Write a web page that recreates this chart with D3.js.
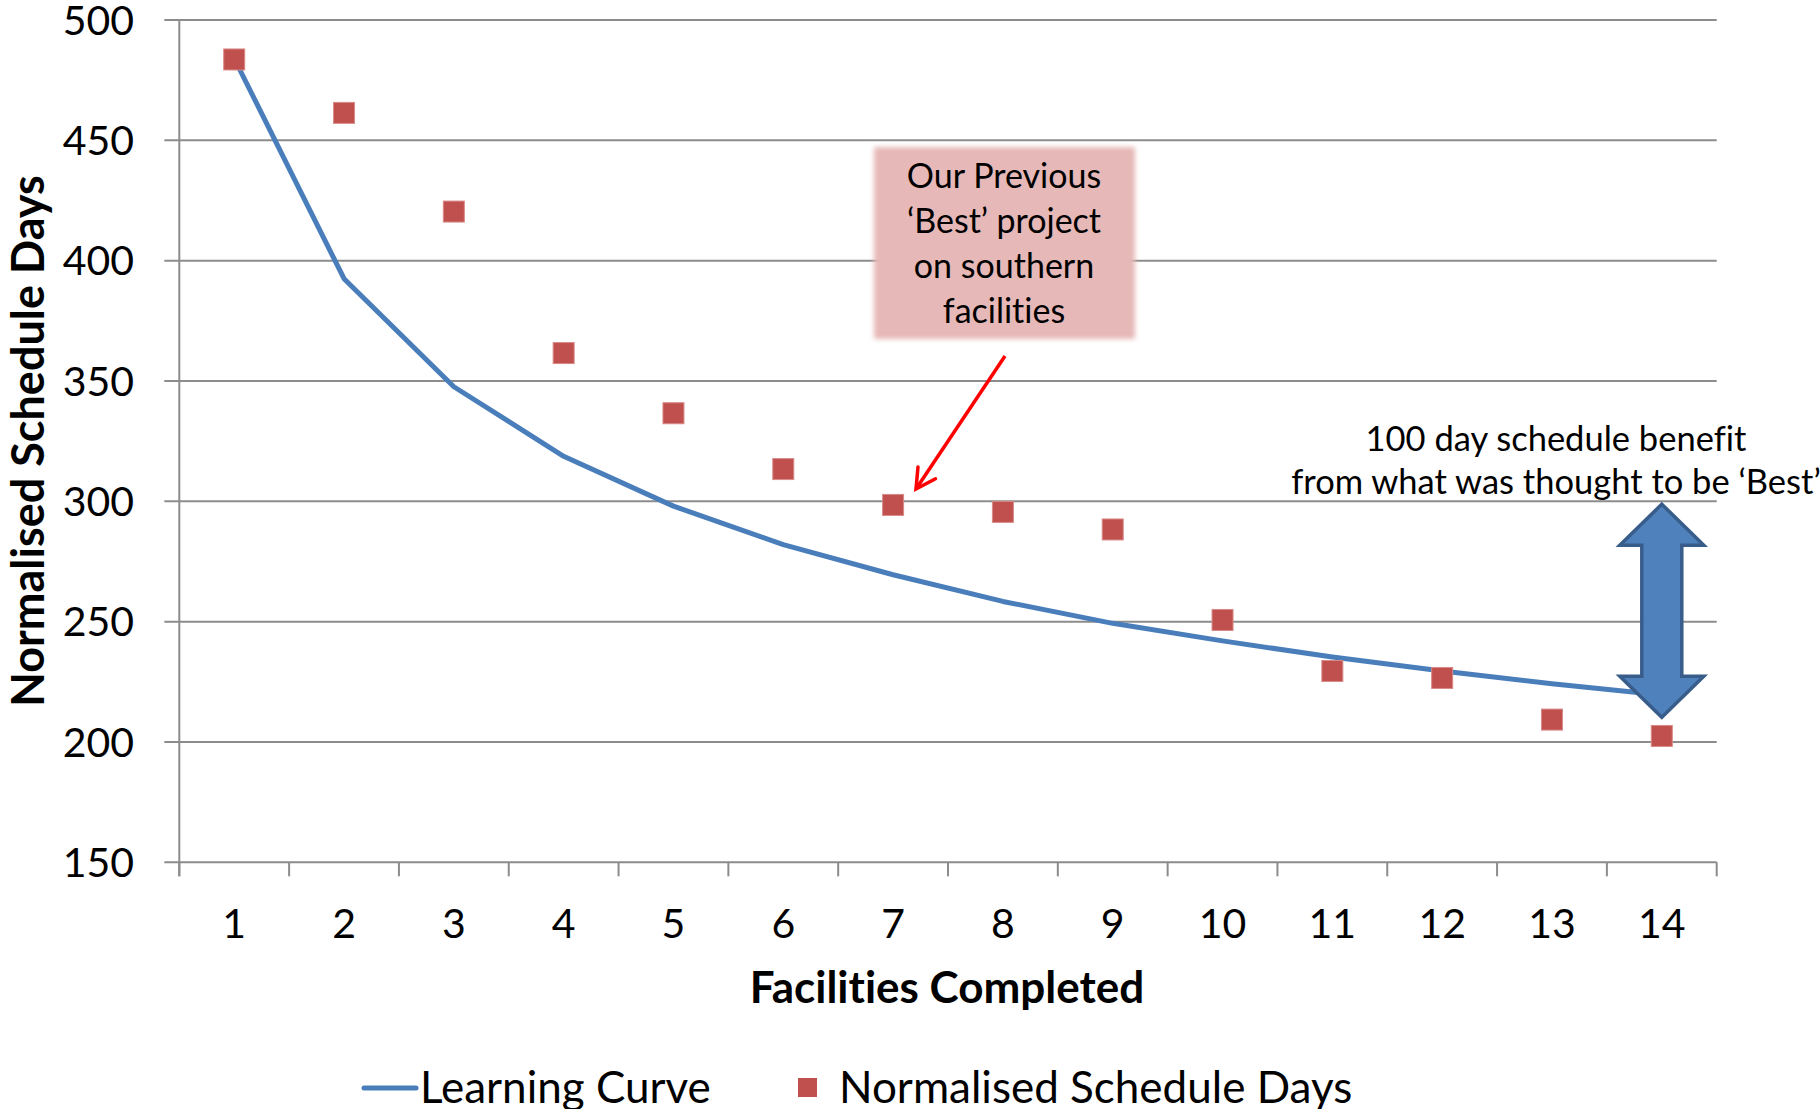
<!DOCTYPE html>
<html lang="en">
<head>
    <meta charset="UTF-8">
    <title>Learning Curve</title>
    <script src="https://cdn.jsdelivr.net/npm/d3@7/dist/d3.min.js"></script>
    <style>
        body {
            margin: 0;
            background: #fff;
        }

        svg {
            font-family: Lato, "Open Sans", sans-serif;
            font-variant-ligatures: none;
        }

        .grid line {
            stroke: #8c8c8c;
            stroke-width: 2px;
        }

        .tick-label {
            font-size: 41px;
            fill: #000;
        }
    </style>
</head>
<body>
<svg id="chart" width="1820" height="1109"></svg>
<script>
    // data
    var facilities = [1, 2, 3, 4, 5, 6, 7, 8, 9, 10, 11, 12, 13, 14];
    var learningCurve = [484, 392.5, 347.6, 318.7, 298, 282, 269.5, 258.4, 249.3, 242, 235.3, 229.5, 224.2, 219.5];
    var scheduleDays = [483.6, 461.4, 420.4, 361.6, 336.6, 313.4, 298.5, 295.6, 288.3, 250.7, 229.5, 226.6, 209.3, 202.5];
    var yTicks = [150, 200, 250, 300, 350, 400, 450, 500];

    var svg = d3.select("#chart");

    var plotLeft = 179.3, plotRight = 1716.7, plotTop = 20, plotBottom = 862.3;

    var x = d3.scaleBand()
            .domain(facilities)
            .range([plotLeft, plotRight]);

    var y = d3.scaleLinear()
            .domain([150, 500])
            .range([plotBottom, plotTop]);

    var cx = function (d) {
        return x(d) + x.bandwidth() / 2;
    };

    var defs = svg.append("defs");
    defs.append("filter")
            .attr("id", "soft")
            .attr("x", "-10%").attr("y", "-10%")
            .attr("width", "120%").attr("height", "120%")
            .append("feGaussianBlur")
            .attr("stdDeviation", 2.5);

    // horizontal gridlines + y tick marks
    var grid = svg.append("g").attr("class", "grid");
    grid.selectAll(".hline")
            .data(yTicks)
            .enter().append("line")
            .attr("class", "hline")
            .attr("x1", plotLeft - 15)
            .attr("x2", plotRight)
            .attr("y1", function (d) { return y(d); })
            .attr("y2", function (d) { return y(d); });

    // y axis line
    grid.append("line")
            .attr("x1", plotLeft).attr("x2", plotLeft)
            .attr("y1", plotTop).attr("y2", plotBottom + 14);

    // x axis ticks at category edges
    var edges = facilities.map(function (d) { return x(d); }).concat([plotRight]);
    grid.selectAll(".xtick")
            .data(edges)
            .enter().append("line")
            .attr("class", "xtick")
            .attr("x1", function (d) { return d; })
            .attr("x2", function (d) { return d; })
            .attr("y1", plotBottom)
            .attr("y2", plotBottom + 14);

    // y tick labels
    svg.append("g").selectAll("text")
            .data(yTicks)
            .enter().append("text")
            .attr("class", "tick-label")
            .attr("x", 134)
            .attr("y", function (d) { return y(d); })
            .attr("dy", "0.36em")
            .attr("text-anchor", "end")
            .text(function (d) { return d; });

    // x tick labels
    svg.append("g").selectAll("text")
            .data(facilities)
            .enter().append("text")
            .attr("class", "tick-label")
            .attr("x", cx)
            .attr("y", 938)
            .attr("text-anchor", "middle")
            .text(function (d) { return d; });

    // axis titles
    svg.append("text")
            .attr("x", 947)
            .attr("y", 1003)
            .attr("text-anchor", "middle")
            .style("font-size", "44px")
            .style("font-weight", "bold")
            .text("Facilities Completed");

    svg.append("text")
            .attr("transform", "translate(44,441) rotate(-90)")
            .attr("text-anchor", "middle")
            .style("font-size", "45px")
            .style("font-weight", "bold")
            .text("Normalised Schedule Days");

    // learning curve line
    var line = d3.line()
            .x(function (d, i) { return cx(facilities[i]); })
            .y(function (d) { return y(d); });

    svg.append("path")
            .datum(learningCurve)
            .attr("d", line)
            .attr("fill", "none")
            .attr("stroke", "#4a7ebb")
            .attr("stroke-width", 5)
            .attr("stroke-linejoin", "round");

    // schedule day markers
    var size = 21;
    svg.append("g").selectAll("rect")
            .data(scheduleDays)
            .enter().append("rect")
            .attr("x", function (d, i) { return cx(facilities[i]) - size / 2; })
            .attr("y", function (d) { return y(d) - size / 2; })
            .attr("width", size)
            .attr("height", size)
            .attr("fill", "#c0504d")
            .attr("stroke", "#d88a88")
            .attr("stroke-width", 1);

    // callout box
    svg.append("rect")
            .attr("x", 874).attr("y", 147)
            .attr("width", 261).attr("height", 192)
            .attr("fill", "#e6b8b7")
            .attr("filter", "url(#soft)");

    var boxLines = ["Our Previous", "\u2018Best\u2019 project", "on southern", "facilities"];
    svg.append("g").selectAll("text")
            .data(boxLines)
            .enter().append("text")
            .attr("x", 1004)
            .attr("y", function (d, i) { return 176 + i * 45; })
            .attr("dy", "0.36em")
            .attr("text-anchor", "middle")
            .style("font-size", "34px")
            .text(function (d) { return d; });

    // red pointer arrow
    var ax1 = 1005, ay1 = 356, ax2 = 916, ay2 = 489;
    svg.append("line")
            .attr("x1", ax1).attr("y1", ay1)
            .attr("x2", ax2).attr("y2", ay2)
            .attr("stroke", "#ff0000")
            .attr("stroke-width", 3.5);
    var ang = Math.atan2(ay1 - ay2, ax1 - ax2);
    var headLen = 22, spread = 0.5;
    svg.append("path")
            .attr("d", "M" + (ax2 + headLen * Math.cos(ang - spread)) + "," + (ay2 + headLen * Math.sin(ang - spread)) +
                    "L" + ax2 + "," + ay2 +
                    "L" + (ax2 + headLen * Math.cos(ang + spread)) + "," + (ay2 + headLen * Math.sin(ang + spread)))
            .attr("fill", "none")
            .attr("stroke", "#ff0000")
            .attr("stroke-width", 3.5)
            .attr("stroke-linecap", "round");

    // double arrow for the benefit
    var bx = cx(14), yTop = y(298.8), yBot = y(210.3);
    var hw = 42, sw = 20, hl = 41;
    var dbl = [
        [bx, yTop], [bx + hw, yTop + hl], [bx + sw, yTop + hl],
        [bx + sw, yBot - hl], [bx + hw, yBot - hl], [bx, yBot],
        [bx - hw, yBot - hl], [bx - sw, yBot - hl], [bx - sw, yTop + hl],
        [bx - hw, yTop + hl]
    ];
    svg.append("path")
            .attr("d", "M" + dbl.join("L") + "Z")
            .attr("fill", "#4f81bd")
            .attr("stroke", "#385d8a")
            .attr("stroke-width", 3.5)
            .attr("stroke-linejoin", "miter");

    var benefitLines = ["100 day schedule benefit", "from what was thought to be \u2018Best\u2019"];
    svg.append("g").selectAll("text")
            .data(benefitLines)
            .enter().append("text")
            .attr("x", 1556)
            .attr("y", function (d, i) { return 439 + i * 43; })
            .attr("dy", "0.36em")
            .attr("text-anchor", "middle")
            .style("font-size", "34.5px")
            .text(function (d) { return d; });

    // legend
    var legend = svg.append("g");
    legend.append("line")
            .attr("x1", 364).attr("x2", 416)
            .attr("y1", 1088).attr("y2", 1088)
            .attr("stroke", "#4a7ebb")
            .attr("stroke-width", 5)
            .attr("stroke-linecap", "round");
    legend.append("text")
            .attr("x", 420).attr("y", 1103)
            .style("font-size", "44px")
            .text("Learning Curve");
    legend.append("rect")
            .attr("x", 798).attr("y", 1078)
            .attr("width", 19).attr("height", 19)
            .attr("fill", "#c0504d");
    legend.append("text")
            .attr("x", 839).attr("y", 1103)
            .style("font-size", "44px")
            .text("Normalised Schedule Days");
</script>
</body>
</html>
